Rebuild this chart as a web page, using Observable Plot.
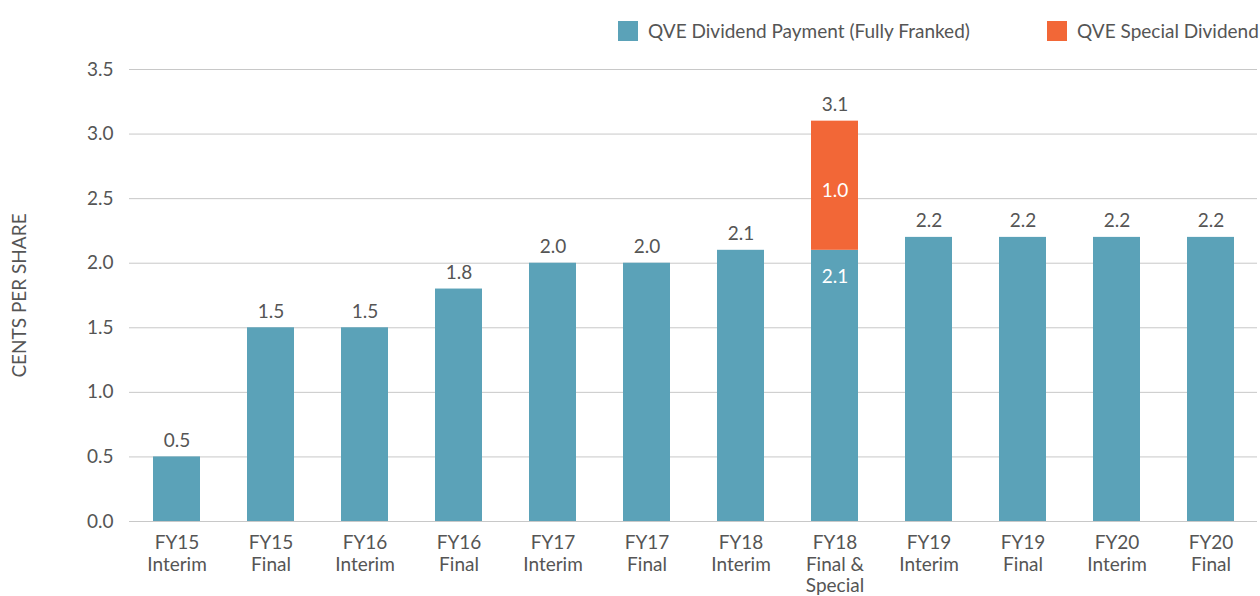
<!DOCTYPE html>
<html>
<head>
<meta charset="utf-8">
<script src="https://cdn.jsdelivr.net/npm/d3@7"></script>
<script src="https://cdn.jsdelivr.net/npm/@observablehq/plot@0.6"></script>
<style>
  html, body { margin: 0; padding: 0; background: #fff; overflow: hidden; }
  body { width: 1260px; height: 596px; font-family: Lato, sans-serif; }
  #legend { position: relative; height: 50px; width: 1260px; overflow: hidden; white-space: nowrap; }
  .item { position: absolute; top: 19px; display: flex; align-items: center; font-size: 19px; color: #555; }
  .sw { width: 20px; height: 20px; margin-right: 10px; }
</style>
</head>
<body>
<div id="legend"></div>
<div id="chart"></div>
<script>
const categories = [
  "FY15\nInterim", "FY15\nFinal", "FY16\nInterim", "FY16\nFinal",
  "FY17\nInterim", "FY17\nFinal", "FY18\nInterim", "FY18\nFinal &\nSpecial",
  "FY19\nInterim", "FY19\nFinal", "FY20\nInterim", "FY20\nFinal"
];
const regular = [0.5, 1.5, 1.5, 1.8, 2.0, 2.0, 2.1, 2.1, 2.2, 2.2, 2.2, 2.2];
const special = [0, 0, 0, 0, 0, 0, 0, 1.0, 0, 0, 0, 0];
const seriesNames = ["QVE Dividend Payment (Fully Franked)", "QVE Special Dividend"];
const seriesColors = ["#5BA2B8", "#F26737"];
const yTicks = [0, 0.5, 1, 1.5, 2, 2.5, 3, 3.5];

const rows = [];
categories.forEach((c, i) => {
  rows.push({cat: c, series: seriesNames[0], value: regular[i]});
  if (special[i] > 0) rows.push({cat: c, series: seriesNames[1], value: special[i]});
});
const totals = categories.map((c, i) => ({cat: c, total: regular[i] + special[i]}));
const specialRows = categories.map((c, i) => ({cat: c, base: regular[i], value: special[i]})).filter(d => d.value > 0);

// legend
const legend = document.getElementById("legend");
const legendX = [618, 1047];
seriesNames.forEach((s, i) => {
  const it = document.createElement("div");
  it.className = "item";
  it.style.left = legendX[i] + "px";
  it.innerHTML = `<span class="sw" style="background:${seriesColors[i]}"></span><span>${s}</span>`;
  legend.appendChild(it);
});

const chart = Plot.plot({
  width: 1260,
  height: 546,
  marginTop: 19,
  marginBottom: 75,
  marginLeft: 129,
  marginRight: 3,
  style: {fontFamily: "Lato, sans-serif", fontSize: "19px", color: "#555", background: "#fff"},
  x: {domain: categories, paddingInner: 0.5, paddingOuter: 0.25, label: null},
  y: {domain: [0, 3.5], ticks: yTicks, label: "CENTS PER SHARE", labelAnchor: "center", labelArrow: "none"},
  color: {domain: seriesNames, range: seriesColors},
  marks: [
    Plot.gridY(yTicks, {stroke: "#c8c8c8", strokeOpacity: 1, strokeWidth: 1}),
    Plot.axisY({ticks: yTicks, tickSize: 0, tickPadding: 16, tickFormat: d => d.toFixed(1), fontSize: 19, label: "CENTS PER SHARE", labelAnchor: "center", labelArrow: "none", labelOffset: 117}),
    Plot.axisX({tickSize: 0, tickPadding: 13, fontSize: 19, lineHeight: 1.11, label: null}),
    Plot.barY(rows, Plot.stackY({x: "cat", y: "value", fill: "series", order: seriesNames})),
    Plot.ruleY([0], {stroke: "#c8c8c8"}),
    Plot.text(totals, {x: "cat", y: "total", text: d => d.total.toFixed(1), lineAnchor: "bottom", dy: -10, fontSize: 19, fill: "#555"}),
    Plot.text(specialRows, {x: "cat", y: d => d.base + d.value / 2, text: d => d.value.toFixed(1), fill: "white", fontSize: 19, dy: 5}),
    Plot.text(specialRows, {x: "cat", y: "base", text: d => d.base.toFixed(1), fill: "white", fontSize: 19, dy: 27})
  ]
});
document.getElementById("chart").appendChild(chart);
</script>
</body>
</html>
